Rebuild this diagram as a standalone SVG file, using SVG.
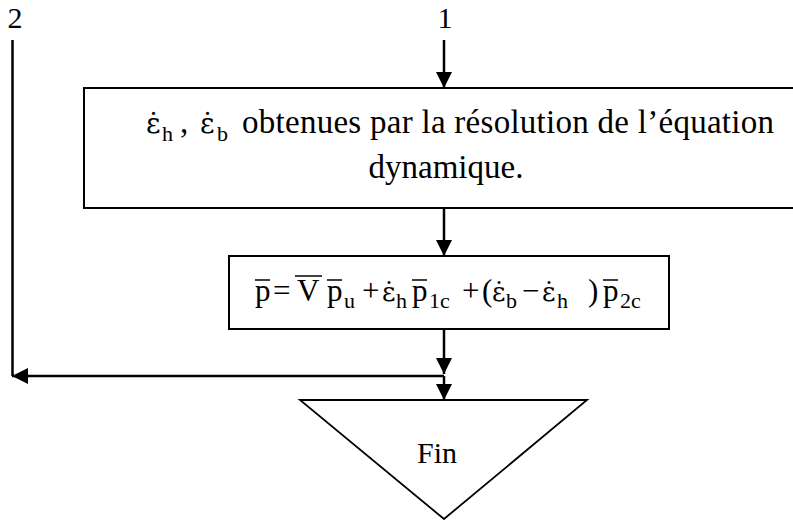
<svg xmlns="http://www.w3.org/2000/svg" width="793" height="520" viewBox="0 0 793 520">
<style>
text{font-family:"Liberation Serif","Times New Roman",serif;fill:#000}
.t{font-size:30px}
.m{font-size:33px}
.s{font-size:22px}
.f{font-size:31px}
.fs{font-size:22px}
.e{font-family:"DejaVu Serif",serif}
.box{fill:#fff;stroke:#000;stroke-width:2}
.ln{stroke:#000;stroke-width:2.5;fill:none}
.ov{stroke:#000;stroke-width:1.5}
</style>
<defs>
<marker id="ah" viewBox="0 0 16 16" markerWidth="16" markerHeight="16" refX="16" refY="8" orient="auto" markerUnits="userSpaceOnUse">
<path d="M0,0 L16,8 L0,16 Z" fill="#000"/>
</marker>
</defs>
<g id="connectors">
<line class="ln" x1="444" y1="40" x2="444" y2="88" marker-end="url(#ah)"/>
<line class="ln" x1="444" y1="208" x2="444" y2="256" marker-end="url(#ah)"/>
<line class="ln" x1="444" y1="329" x2="444" y2="374" marker-end="url(#ah)"/>
<line class="ln" x1="444" y1="376" x2="444" y2="400" marker-end="url(#ah)"/>
<line class="ln" x1="12.5" y1="40" x2="12.5" y2="376"/>
<line class="ln" x1="444" y1="376" x2="12" y2="376" marker-end="url(#ah)"/>
</g>
<g id="label1"><text class="t" x="445" y="28" text-anchor="middle">1</text></g>
<g id="label2"><text class="t" x="15" y="28" text-anchor="middle">2</text></g>
<g id="box1">
<rect class="box" x="84" y="88" width="720" height="120"/>
<text class="e" font-size="28" x="146" y="133">ε̇</text>
<text class="s" x="162" y="141">h</text>
<text class="m" x="180" y="133">,</text>
<text class="e" font-size="28" x="200" y="133">ε̇</text>
<text class="s" x="217" y="141">b</text>
<text class="m" x="242" y="133" textLength="532" lengthAdjust="spacing">obtenues par la résolution de l’équation</text>
<text class="m" x="446" y="178" text-anchor="middle">dynamique.</text>
</g>
<g id="box2">
<rect class="box" x="229" y="256" width="440" height="73"/>
<text class="f" x="255" y="301">p</text>
<line class="ov" x1="255" y1="280" x2="270" y2="280"/>
<text class="f" x="273" y="301">=</text>
<text class="f" x="297" y="301">V</text>
<line class="ov" x1="295" y1="276" x2="322" y2="276"/>
<text class="f" x="327" y="301">p</text>
<line class="ov" x1="327" y1="280" x2="342" y2="280"/>
<text class="fs" x="344" y="308">u</text>
<text class="f" x="362" y="301">+</text>
<text class="e" font-size="26" x="382" y="301">ε̇</text>
<text class="fs" x="396" y="308">h</text>
<text class="f" x="412" y="301">p</text>
<line class="ov" x1="412" y1="280" x2="427" y2="280"/>
<text class="fs" x="429" y="308">1c</text>
<text class="f" x="462" y="301">+</text>
<text class="f" x="482" y="301">(</text>
<text class="e" font-size="26" x="492" y="301">ε̇</text>
<text class="fs" x="506" y="308">b</text>
<text class="f" x="522" y="301">−</text>
<text class="e" font-size="26" x="542" y="301">ε̇</text>
<text class="fs" x="557" y="308">h</text>
<text class="f" x="588" y="301">)</text>
<text class="f" x="603" y="301">p</text>
<line class="ov" x1="603" y1="280" x2="618" y2="280"/>
<text class="fs" x="620" y="308">2c</text>
</g>
<g id="fin">
<polygon points="300,400 587,400 444,519" fill="#fff" stroke="#000" stroke-width="1.8"/>
<text class="t" x="437" y="463" text-anchor="middle">Fin</text>
</g>
</svg>
